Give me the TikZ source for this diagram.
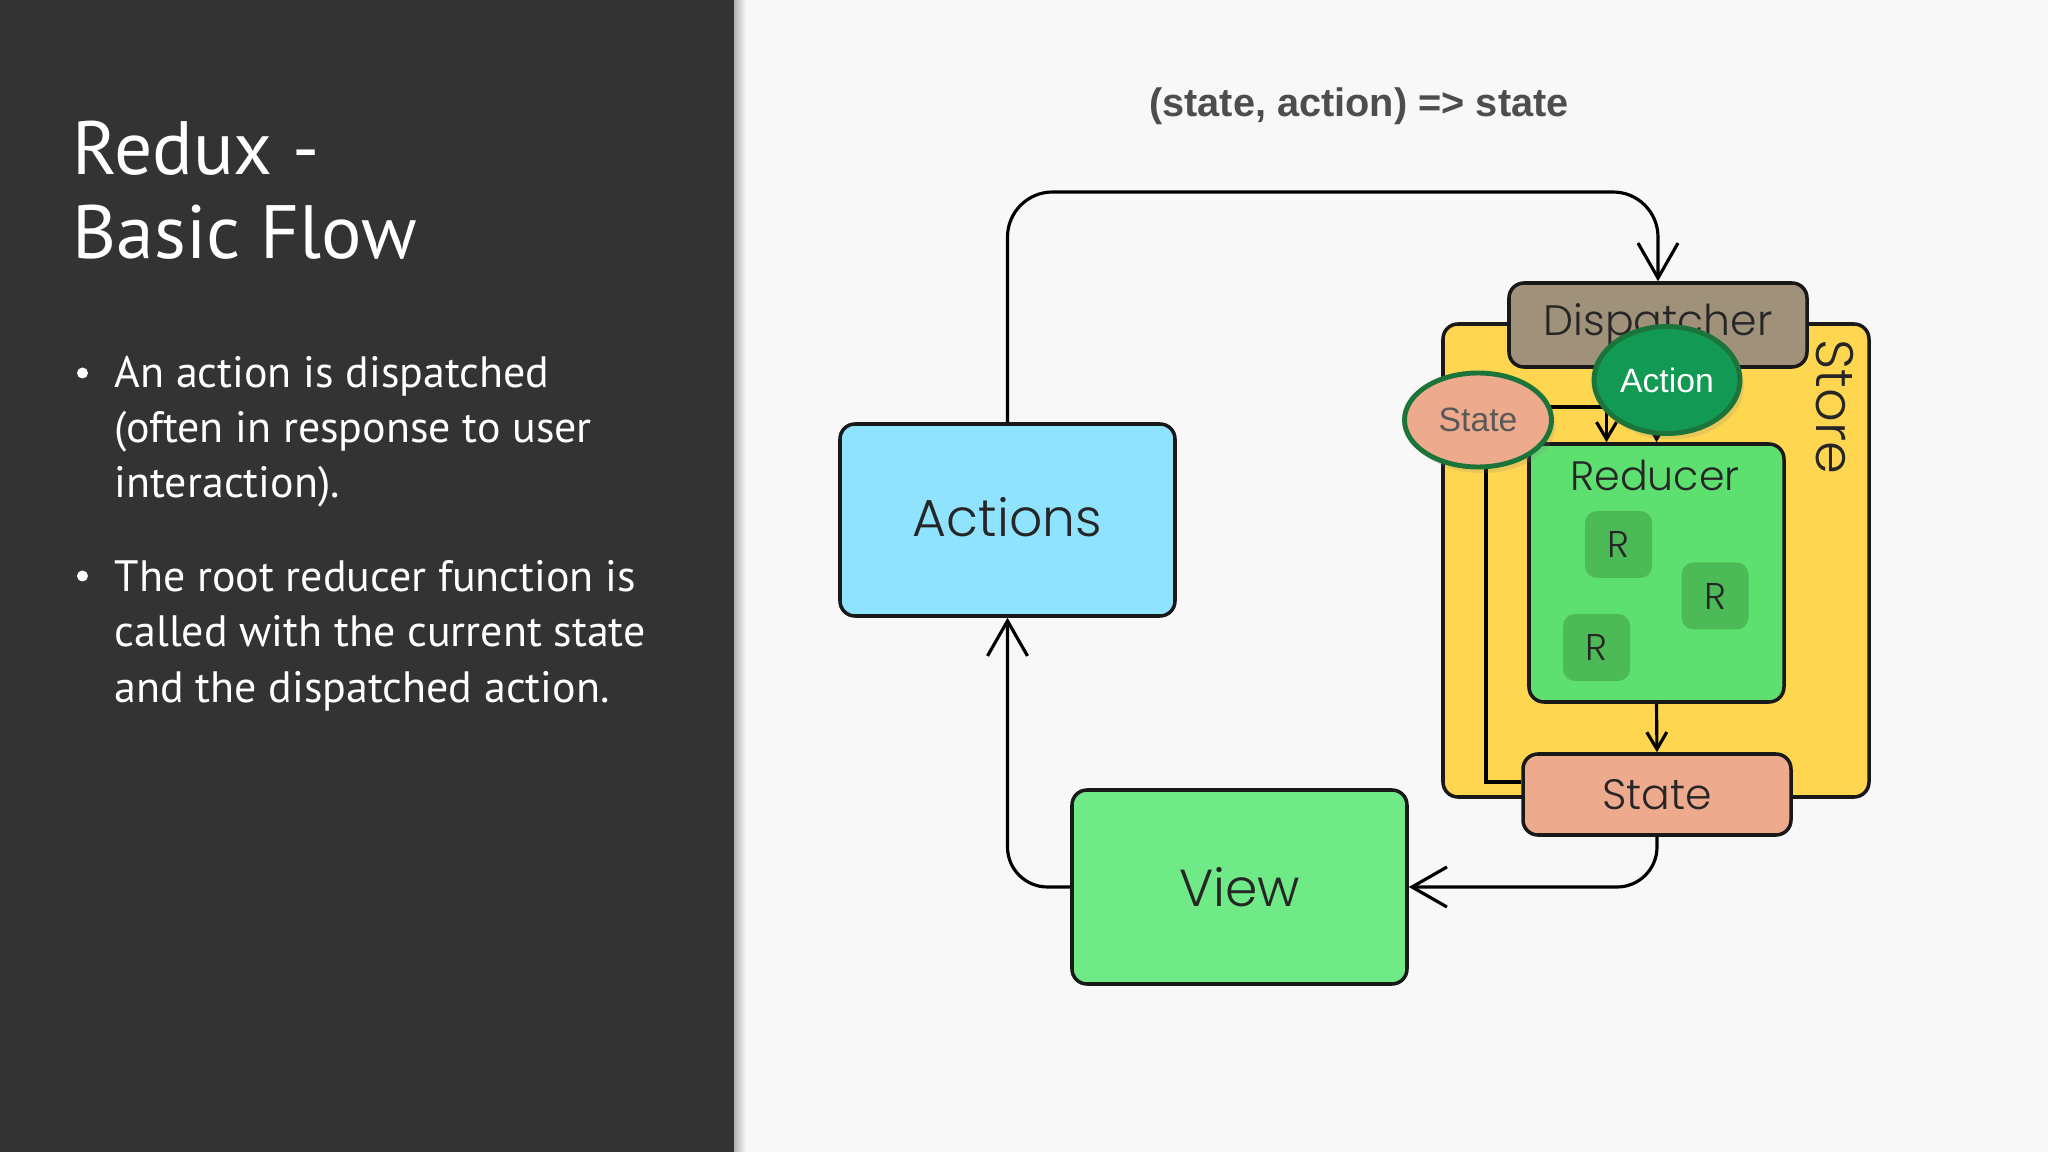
\documentclass[tikz,border=0pt]{standalone}
\usepackage{fontspec}
\setmainfont{PT Sans}
\newfontfamily\diagfont{Poppins}[UprightFont=* Light]
\newfontfamily\formfont{Liberation Sans}
\usetikzlibrary{arrows.meta,shapes.geometric,shadows}

\definecolor{panelgray}{HTML}{333333}
\definecolor{pagebg}{HTML}{F8F8F8}
\definecolor{actblue}{HTML}{8FE3FF}
\definecolor{viewgreen}{HTML}{70EA87}
\definecolor{redgreen}{HTML}{5EE070}
\definecolor{rgreen}{HTML}{4CBA56}
\definecolor{storeyellow}{HTML}{FFD650}
\definecolor{dispbrown}{HTML}{A0917A}
\definecolor{statesalmon}{HTML}{EEAA8C}
\definecolor{actiongreen}{HTML}{129954}
\definecolor{ovalborder}{HTML}{1B7439}
\definecolor{formgray}{HTML}{4D4D4D}

\begin{document}
\begin{tikzpicture}[
  box/.style={draw=black!90, line width=1pt, rounded corners=1.5mm, text=black!85,
    font=\diagfont\fontsize{12.1}{14}\selectfont},
  bigbox/.style={box, font=\diagfont\fontsize{14.8}{17}\selectfont},
  rbox/.style={fill=rgreen, rounded corners=1.2mm, minimum size=0.67cm, inner sep=0pt,
    text=black!85, font=\diagfont\fontsize{10.6}{12}\selectfont},
  oval/.style={ellipse, draw=ovalborder, line width=1.4pt, inner sep=0pt,
    font=\formfont\fontsize{9.6}{11}\selectfont,
    drop shadow={opacity=0.18, shadow xshift=0.4mm, shadow yshift=-0.6mm}},
  conn/.style={line width=0.9pt},
  bigarr/.style={-{Straight Barb[length=3.5mm, width=4mm]}},
  smallarr/.style={-{Straight Barb[length=1.7mm, width=2mm]}},
  bline/.style={anchor=base west, inner sep=0pt, text=white,
    font=\fontsize{12.5}{14}\selectfont},
  dot/.style={circle, fill=white, inner sep=0pt, minimum size=1.1mm}
]

% page and left panel
\fill[pagebg] (0,0) rectangle (20.48,-11.52);
\useasboundingbox (0,0) rectangle (20.48,-11.52);
\shade[left color=black!30, right color=pagebg] (7.34,0) rectangle (7.46,-11.52);
\fill[panelgray] (0,0) rectangle (7.34,-11.52);

% slide text
\node[anchor=base west, inner sep=0pt, text=white, font=\fontsize{21.5}{24}\selectfont] (title1) at (0.72,-1.745) {Redux -};
\node[anchor=base west, inner sep=0pt, text=white, font=\fontsize{21.5}{24}\selectfont] (title2) at (0.72,-2.59) {Basic Flow};

\node[dot] (dot1) at (0.825,-3.73) {};
\node[bline] (b1a) at (1.14,-3.88) {An action is dispatched};
\node[bline] (b1b) at (1.14,-4.43) {(often in response to user};
\node[bline] (b1c) at (1.14,-4.98) {interaction).};
\node[dot] (dot2) at (0.825,-5.76) {};
\node[bline] (b2a) at (1.14,-5.91) {The root reducer function is};
\node[bline] (b2b) at (1.14,-6.47) {called with the current state};
\node[bline] (b2c) at (1.14,-7.02) {and the dispatched action.};

% diagram
\node[anchor=base, text=formgray, font=\formfont\bfseries\fontsize{11.3}{13}\selectfont] (formula) at (13.59,-1.17) {(state, action) => state};

\node[bigbox, fill=actblue, minimum width=3.35cm, minimum height=1.92cm] (actions) at (10.075,-5.20) {\raisebox{0.6mm}{Actions}};
\node[bigbox, fill=viewgreen, minimum width=3.35cm, minimum height=1.94cm] (view) at (12.395,-8.87) {View};

\node[box, fill=storeyellow, minimum width=4.26cm, minimum height=4.73cm] (store) at (16.56,-5.605) {};
\node[rotate=-90, text=black!85, font=\diagfont\fontsize{15}{17}\selectfont] (storelbl) at (18.35,-4.07) {Store};
\node[box, fill=dispbrown, minimum width=2.98cm, minimum height=0.84cm] (dispatcher) at (16.58,-3.25) {Dispatcher};
\node[box, fill=redgreen, minimum width=2.55cm, minimum height=2.58cm] (reducer) at (16.565,-5.73) {};
\node[text=black!85, font=\diagfont\fontsize{11.7}{14}\selectfont] (reducerlbl) at (16.55,-4.75) {Reducer};
\node[rbox] (r1) at (16.185,-5.445) {R};
\node[rbox] (r2) at (17.15,-5.96) {R};
\node[rbox] (r3) at (15.965,-6.475) {R};
\node[box, fill=statesalmon, minimum width=2.68cm, minimum height=0.81cm] (stateb) at (16.57,-7.945) {State};

% flow
\coordinate (loop) at (13.35,-1.92);
\draw[conn, bigarr, rounded corners=4.5mm] (actions.north) |- (loop) -| (dispatcher.north);
\draw[conn, bigarr, rounded corners=4mm] (stateb.south) |- (view.east);
\draw[conn, bigarr, rounded corners=4mm] (view.west) -| (actions.south);
\draw[conn, smallarr] (reducer.south) -- (stateb.north);
\draw[conn, smallarr] (dispatcher.south) -- (reducer.north);
\draw[conn, smallarr] ([yshift=1.25mm]stateb.west) -| (14.86,-4.07) -| ([xshift=-5mm]reducer.north);

\node[oval, fill=statesalmon, text=black!65, minimum width=1.47cm, minimum height=0.94cm] (stateov) at (14.78,-4.20) {State};
\node[oval, fill=actiongreen, text=white, minimum width=1.46cm, minimum height=1.07cm] (actionov) at (16.67,-3.80) {Action};

\end{tikzpicture}
\end{document}
